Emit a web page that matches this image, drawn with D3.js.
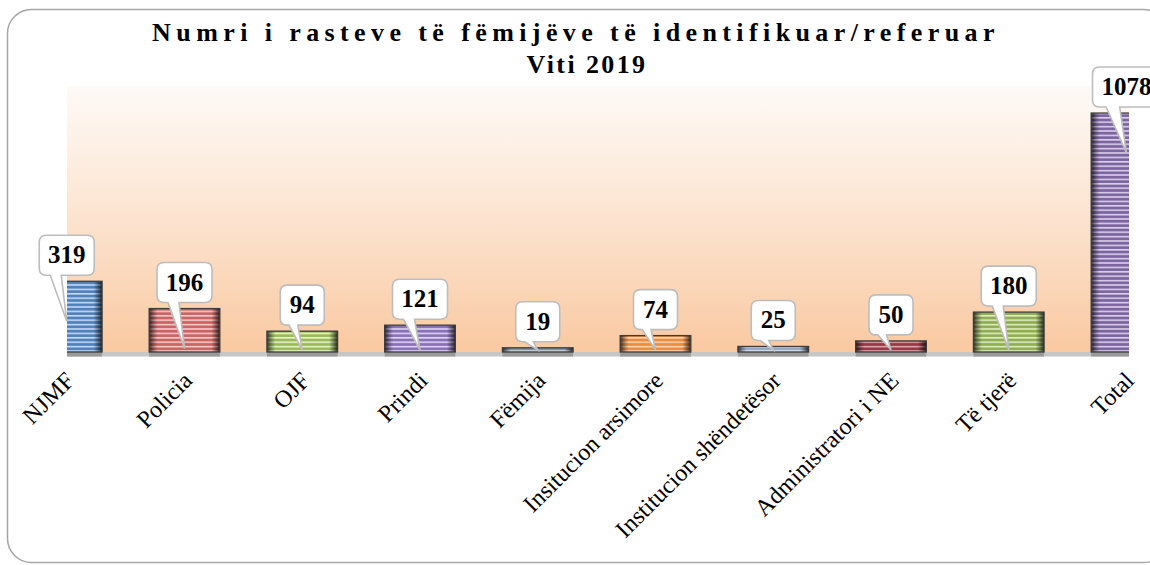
<!DOCTYPE html>
<html>
<head>
<meta charset="utf-8">
<script src="https://cdn.jsdelivr.net/npm/d3@7"></script>
<style>
  body { margin: 0; background: #fff; }
  svg { display: block; }
</style>
</head>
<body>
<div id="chart"></div>
<script>
// Data
const categories = ["NJMF", "Policia", "OJF", "Prindi", "Fëmija", "Insitucion arsimore",
    "Institucion shëndetësor", "Administratori i NE", "Të tjerë", "Total"];
const values = [319, 196, 94, 121, 19, 74, 25, 50, 180, 1078];
const barColors = ["#4f81bd", "#cc6262", "#9bbb59", "#8a70b8", "#7f8fa3", "#f08a3c",
    "#95a9c4", "#953744", "#8fae52", "#7c64a0"];
const stripeColors = ["#c4d9f5", "#f5cccc", "#e6f2cc", "#e0d6f4", "#cfd7e0", "#fdd6b4",
    "#e0e8f2", "#dca6ae", "#dfebc4", "#dad0ea"];
const titleLines = ["Numri i rasteve të fëmijëve të identifikuar/referuar", "Viti 2019"];

const width = 1150, height = 565;
const plot = { left: 67, right: 1129, top: 86, bottom: 352 };

const svg = d3.select("#chart")
    .append("svg")
    .attr("width", width)
    .attr("height", height);

const defs = svg.append("defs");

// background gradient
const bg = defs.append("linearGradient")
    .attr("id", "bgGrad")
    .attr("x1", 0).attr("y1", 0).attr("x2", 0).attr("y2", 1);
bg.append("stop").attr("offset", "0%").attr("stop-color", "#fefaf7");
bg.append("stop").attr("offset", "50%").attr("stop-color", "#fce3cf");
bg.append("stop").attr("offset", "100%").attr("stop-color", "#f9c9a1");

// bevel overlay for bars
const bevel = defs.append("linearGradient")
    .attr("id", "bevel")
    .attr("x1", 0).attr("y1", 0).attr("x2", 1).attr("y2", 0);
[["0%", 0.7], ["7%", 0.25], ["12%", 0], ["88%", 0], ["93%", 0.3], ["100%", 0.75]]
    .forEach(([o, a]) => bevel.append("stop").attr("offset", o)
        .attr("stop-color", "#000").attr("stop-opacity", a));

// striped patterns
barColors.forEach((c, i) => {
    const p = defs.append("pattern")
        .attr("id", "stripe" + i)
        .attr("patternUnits", "userSpaceOnUse")
        .attr("width", 8).attr("height", 4.4);
    p.append("rect").attr("width", 8).attr("height", 4.4).attr("fill", c);
    p.append("rect").attr("y", 2.6).attr("width", 8).attr("height", 1.6).attr("fill", stripeColors[i]);
});

defs.append("clipPath").attr("id", "plotClip")
    .append("rect")
    .attr("x", plot.left).attr("y", 0)
    .attr("width", plot.right - plot.left).attr("height", height);

// chart border
svg.append("rect")
    .attr("x", 7.5).attr("y", 9.5)
    .attr("width", 1160).attr("height", 553)
    .attr("rx", 24)
    .attr("fill", "#fff")
    .attr("stroke", "#a6a6a6")
    .attr("stroke-width", 1.5);

// Title
const title = svg.append("text")
    .attr("text-anchor", "middle")
    .style("font-family", "'Liberation Serif', 'Times New Roman', serif")
    .style("font-weight", "bold")
    .style("font-size", "26px");
title.append("tspan").attr("x", 576).attr("y", 41)
    .style("letter-spacing", "5.4px").text(titleLines[0]);
title.append("tspan").attr("x", 587).attr("y", 73)
    .style("letter-spacing", "2.4px").text(titleLines[1]);

// Scales
const x = d3.scalePoint()
    .domain(categories)
    .range([66.75, 1126.5]);
const barW = x.step() * 0.6;

const y = d3.scaleLinear()
    .domain([0, 1200])
    .range([plot.bottom, plot.top]);

// plot background
svg.append("rect")
    .attr("x", plot.left).attr("y", plot.top)
    .attr("width", plot.right - plot.left)
    .attr("height", plot.bottom - plot.top)
    .attr("fill", "url(#bgGrad)");

// floor
svg.append("rect")
    .attr("x", plot.left).attr("y", plot.bottom)
    .attr("width", plot.right - plot.left).attr("height", 4.5)
    .attr("fill", "#c6c6c6");

const bars = svg.append("g").attr("clip-path", "url(#plotClip)");

const data = categories.map((c, i) => ({ c, v: values[i], i }));

bars.selectAll(".floorDark")
    .data(data)
    .join("rect")
    .attr("x", d => x(d.c) - barW / 2)
    .attr("y", plot.bottom)
    .attr("width", barW).attr("height", 4.5)
    .attr("fill", "#9a9a9a");

bars.selectAll(".bar")
    .data(data)
    .join("rect")
    .attr("class", "bar")
    .attr("x", d => x(d.c) - barW / 2)
    .attr("y", d => y(d.v))
    .attr("width", barW)
    .attr("height", d => y(0) - y(d.v))
    .attr("fill", d => "url(#stripe" + d.i + ")");

bars.selectAll(".bev")
    .data(data)
    .join("rect")
    .attr("x", d => x(d.c) - barW / 2)
    .attr("y", d => y(d.v))
    .attr("width", barW)
    .attr("height", d => y(0) - y(d.v))
    .attr("fill", "url(#bevel)")
    .attr("stroke", "#3c3c3c")
    .attr("stroke-width", 1.3);

// Callout labels
const callout = (cx, top, w, h, tipY) => {
    const x0 = cx - w / 2, x1 = cx + w / 2, y0 = top, y1 = top + h, r = 7;
    const b1 = cx - w * 0.3, b2 = cx - w * 0.1;
    return `M${x0 + r},${y0} L${x1 - r},${y0} Q${x1},${y0} ${x1},${y0 + r} L${x1},${y1 - r} Q${x1},${y1} ${x1 - r},${y1} ` +
        `L${b2},${y1} L${cx},${tipY} L${b1},${y1} L${x0 + r},${y1} Q${x0},${y1} ${x0},${y1 - r} L${x0},${y0 + r} Q${x0},${y0} ${x0 + r},${y0} Z`;
};

const labels = svg.append("g");
const boxW = d => d.v >= 1000 ? 68 : d.v >= 100 ? 55 : 44;

labels.selectAll("path")
    .data(data)
    .join("path")
    .attr("d", d => {
        const top = y(d.v);
        const tip = Math.min(top + 40, plot.bottom - 2);
        return callout(x(d.c), top - 46, boxW(d), 40, tip);
    })
    .attr("fill", "#fff")
    .attr("stroke", "#bdbdbd")
    .attr("stroke-width", 1.6);

labels.selectAll("text")
    .data(data)
    .join("text")
    .attr("x", d => x(d.c))
    .attr("y", d => y(d.v) - 18)
    .attr("text-anchor", "middle")
    .style("font-family", "'Liberation Serif', 'Times New Roman', serif")
    .style("font-weight", "bold")
    .style("font-size", "25px")
    .text(d => d.v);

// Category axis labels
svg.append("g")
    .selectAll("text")
    .data(categories)
    .join("text")
    .attr("transform", d => `translate(${x(d) + 9},${382}) rotate(-45)`)
    .attr("text-anchor", "end")
    .style("font-family", "'Liberation Serif', 'Times New Roman', serif")
    .style("font-size", "24px")
    .text(d => d);
</script>
</body>
</html>
